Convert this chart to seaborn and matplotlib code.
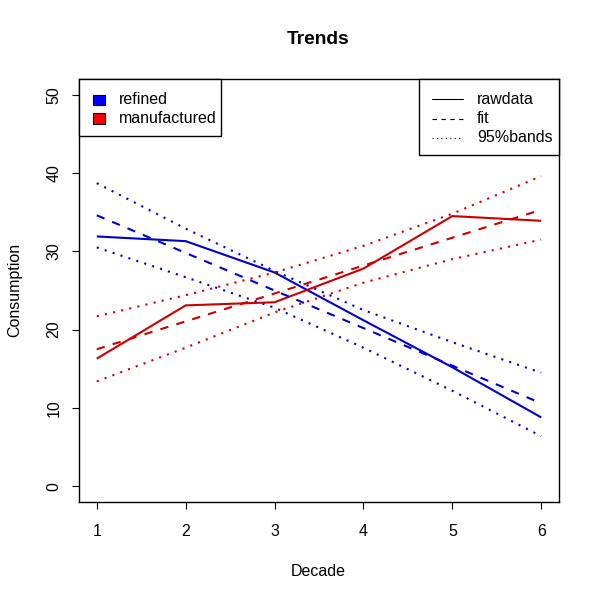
import matplotlib
matplotlib.use("Agg")
import matplotlib.pyplot as plt
from matplotlib.patches import Rectangle
from matplotlib.lines import Line2D
import seaborn as sns
import pandas as pd

# ---- data ----
decades = [1, 2, 3, 4, 5, 6]
refined_raw = [31.9, 31.3, 27.3, 21.2, 15.2, 8.8]
manufactured_raw = [16.3, 23.1, 23.5, 27.8, 34.5, 33.9]

fit_decades = [1, 6]
refined_fit = [34.6, 10.6]
manufactured_fit = [17.5, 35.3]

refined_upper = [38.7, 32.9, 27.5, 22.5, 18.4, 14.5]
refined_lower = [30.5, 26.7, 22.8, 17.7, 12.2, 6.4]
manufactured_upper = [21.7, 24.4, 27.3, 30.7, 34.8, 39.6]
manufactured_lower = [13.4, 17.7, 22.2, 26.0, 29.0, 31.5]

products = ["refined", "manufactured"]
kinds = ["rawdata", "fit", "95%bands"]
x_ticks = [1, 2, 3, 4, 5, 6]
y_ticks = [0, 10, 20, 30, 40, 50]

# ---- style ----
sns.set_theme(style="white")
plt.rcParams["font.family"] = ["Liberation Sans", "DejaVu Sans"]

W, H = 600, 600
fig = plt.figure(figsize=(6, 6), dpi=100)
ax = fig.add_axes([79 / W, 1 - 502 / H, (559 - 79) / W, (502 - 79) / H])

line_col = {"refined": "#0000CD", "manufactured": "#CD0000"}
fill_col = {"refined": "#0000FF", "manufactured": "#FF0000"}
ls_map = {"rawdata": "-", "fit": (0, (4, 4)), "95%bands": (0, (1, 3))}
LW = 1.5

series = [
    ("refined", "rawdata", decades, refined_raw),
    ("manufactured", "rawdata", decades, manufactured_raw),
    ("refined", "fit", fit_decades, refined_fit),
    ("manufactured", "fit", fit_decades, manufactured_fit),
    ("refined", "95%bands", decades, refined_upper),
    ("refined", "95%bands", decades, refined_lower),
    ("manufactured", "95%bands", decades, manufactured_upper),
    ("manufactured", "95%bands", decades, manufactured_lower),
]
for prod, kind, xs, ys in series:
    df = pd.DataFrame({"Decade": xs, "Consumption": ys})
    sns.lineplot(data=df, x="Decade", y="Consumption", ax=ax,
                 color=line_col[prod], linewidth=LW, linestyle=ls_map[kind],
                 dash_capstyle="butt", solid_capstyle="butt", legend=False)

ax.set_xlim(0.8, 6.2)
ax.set_ylim(-2, 52)
ax.set_xticks(x_ticks)
ax.set_xticklabels([str(v) for v in x_ticks])
ax.set_yticks(y_ticks)
ax.set_yticklabels([str(v) for v in y_ticks], rotation=90, va="center")
ax.tick_params(axis="both", direction="out", length=5, width=0.8, color="black",
               labelsize=11.5, labelcolor="black")
ax.tick_params(axis="x", pad=10.5, bottom=True)
ax.tick_params(axis="y", pad=7.5, left=True)
for sp in ax.spines.values():
    sp.set_color("black")
    sp.set_linewidth(1.0)
    sp.set_visible(True)
ax.set_xlabel("")
ax.set_ylabel("")

def fx(x):
    return x / W

def fy(y):
    return 1 - y / H

fig.text(fx(318), fy(40), "Trends", ha="center", va="center",
         fontsize=13.8, fontweight="bold", color="black")
fig.text(fx(318), fy(572), "Decade", ha="center", va="center",
         fontsize=11.5, color="black")
fig.text(fx(15), fy(290), "Consumption", ha="center", va="center",
         rotation=90, fontsize=11.5, color="black")

# ---- left legend (products) ----
fig.add_artist(Rectangle((fx(79), fy(136)), (221 - 79) / W, (136 - 79) / H,
                         transform=fig.transFigure, facecolor="white",
                         edgecolor="black", linewidth=1.0, zorder=5))
for i, prod in enumerate(products):
    yc = 100 + 18.5 * i
    fig.add_artist(Rectangle((fx(93), fy(yc + 5)), 12 / W, 10 / H,
                             transform=fig.transFigure, facecolor=fill_col[prod],
                             edgecolor="black", linewidth=0.8, zorder=6))
    fig.text(fx(119), fy(yc), prod, ha="left", va="center", fontsize=11.5,
             color="black", zorder=6)

# ---- right legend (line kinds) ----
fig.add_artist(Rectangle((fx(419), fy(155)), (559 - 419) / W, (155 - 79) / H,
                         transform=fig.transFigure, facecolor="white",
                         edgecolor="black", linewidth=1.0, zorder=5))
for i, kind in enumerate(kinds):
    yc = 99 + 19.5 * i
    fig.add_artist(Line2D([fx(432), fx(463)], [fy(yc), fy(yc)],
                          transform=fig.transFigure, color="black",
                          linewidth=0.8, linestyle=ls_map[kind],
                          dash_capstyle="butt", zorder=6))
    fig.text(fx(477), fy(yc), kind, ha="left", va="center", fontsize=11.5,
             color="black", zorder=6)

fig.savefig("out.png", dpi=100, facecolor="white")
